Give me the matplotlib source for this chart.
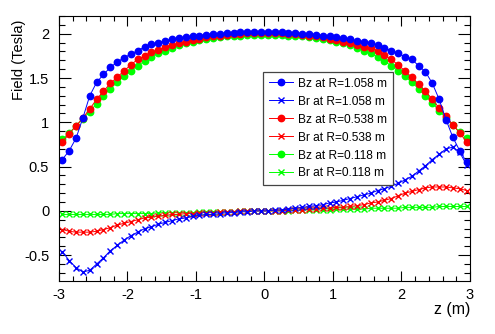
import matplotlib
matplotlib.use('Agg')
import matplotlib.pyplot as plt
from matplotlib.ticker import MultipleLocator

plt.rcParams['font.family'] = ['Liberation Sans', 'DejaVu Sans']

z = [-2.95, -2.85, -2.75, -2.65, -2.55, -2.45, -2.35, -2.25, -2.15, -2.05,
     -1.95, -1.85, -1.75, -1.65, -1.55, -1.45, -1.35, -1.25, -1.15, -1.05,
     -0.95, -0.85, -0.75, -0.65, -0.55, -0.45, -0.35, -0.25, -0.15, -0.05,
     0.05, 0.15, 0.25, 0.35, 0.45, 0.55, 0.65, 0.75, 0.85, 0.95,
     1.05, 1.15, 1.25, 1.35, 1.45, 1.55, 1.65, 1.75, 1.85, 1.95,
     2.05, 2.15, 2.25, 2.35, 2.45, 2.55, 2.65, 2.75, 2.85, 2.95]

# Bz, R = 1.058 m
bz_1058 = [0.58, 0.68, 0.82, 1.05, 1.30, 1.45, 1.54, 1.62, 1.68, 1.73,
           1.77, 1.81, 1.85, 1.88, 1.90, 1.92, 1.94, 1.95, 1.96, 1.97,
           1.98, 1.99, 2.00, 2.00, 2.01, 2.01, 2.02, 2.02, 2.02, 2.02,
           2.02, 2.02, 2.02, 2.01, 2.01, 2.00, 2.00, 1.99, 1.98, 1.97,
           1.96, 1.95, 1.94, 1.92, 1.91, 1.89, 1.87, 1.84, 1.81, 1.78,
           1.74, 1.71, 1.64, 1.57, 1.44, 1.26, 1.03, 0.83, 0.68, 0.55]
# Br, R = 1.058 m
br_1058 = [-0.46, -0.56, -0.64, -0.69, -0.67, -0.60, -0.53, -0.45, -0.39, -0.33,
           -0.28, -0.24, -0.20, -0.18, -0.15, -0.13, -0.11, -0.09, -0.08, -0.06,
           -0.05, -0.04, -0.04, -0.03, -0.02, -0.02, -0.01, -0.01, 0.00, 0.00,
           0.00, 0.01, 0.01, 0.02, 0.03, 0.04, 0.05, 0.06, 0.07, 0.09,
           0.10, 0.12, 0.14, 0.16, 0.18, 0.20, 0.23, 0.25, 0.28, 0.31,
           0.35, 0.39, 0.45, 0.51, 0.58, 0.64, 0.70, 0.72, 0.66, 0.52]
# Bz, R = 0.538 m
bz_0538 = [0.78, 0.87, 0.96, 1.05, 1.15, 1.26, 1.35, 1.44, 1.51, 1.58,
           1.65, 1.71, 1.75, 1.79, 1.82, 1.85, 1.87, 1.89, 1.91, 1.93,
           1.94, 1.96, 1.97, 1.98, 1.99, 2.00, 2.00, 2.01, 2.01, 2.01,
           2.01, 2.01, 2.01, 2.00, 2.00, 1.99, 1.98, 1.97, 1.96, 1.94,
           1.93, 1.91, 1.89, 1.87, 1.85, 1.84, 1.81, 1.76, 1.71, 1.65,
           1.58, 1.51, 1.43, 1.35, 1.26, 1.16, 1.07, 0.97, 0.88, 0.78]
# Br, R = 0.538 m
br_0538 = [-0.21, -0.23, -0.24, -0.24, -0.24, -0.23, -0.21, -0.19, -0.16, -0.14,
           -0.12, -0.10, -0.08, -0.07, -0.06, -0.05, -0.04, -0.04, -0.03, -0.03,
           -0.02, -0.02, -0.02, -0.01, -0.01, -0.01, 0.00, 0.00, 0.00, 0.00,
           0.00, 0.00, 0.00, 0.01, 0.01, 0.01, 0.02, 0.02, 0.03, 0.03,
           0.04, 0.04, 0.05, 0.06, 0.07, 0.09, 0.10, 0.12, 0.14, 0.17,
           0.20, 0.22, 0.24, 0.26, 0.27, 0.27, 0.27, 0.26, 0.25, 0.23]
# Bz, R = 0.118 m
bz_0118 = [0.81, 0.88, 0.96, 1.04, 1.12, 1.21, 1.30, 1.38, 1.45, 1.52,
           1.58, 1.64, 1.69, 1.74, 1.78, 1.81, 1.84, 1.87, 1.89, 1.91,
           1.93, 1.94, 1.95, 1.96, 1.97, 1.98, 1.98, 1.99, 1.99, 1.99,
           1.99, 1.99, 1.99, 1.98, 1.98, 1.97, 1.96, 1.95, 1.94, 1.93,
           1.91, 1.89, 1.87, 1.84, 1.81, 1.78, 1.74, 1.69, 1.64, 1.58,
           1.52, 1.45, 1.38, 1.30, 1.22, 1.13, 1.05, 0.97, 0.89, 0.82]
# Br, R = 0.118 m
br_0118 = [-0.04, -0.04, -0.04, -0.04, -0.04, -0.04, -0.04, -0.04, -0.03, -0.03,
           -0.03, -0.03, -0.03, -0.03, -0.02, -0.02, -0.02, -0.02, -0.02, -0.02,
           -0.01, -0.01, -0.01, -0.01, -0.01, -0.01, 0.00, 0.00, 0.00, 0.00,
           0.00, 0.00, 0.00, 0.00, 0.01, 0.01, 0.01, 0.01, 0.01, 0.01,
           0.02, 0.02, 0.02, 0.02, 0.02, 0.03, 0.03, 0.03, 0.03, 0.03,
           0.04, 0.04, 0.04, 0.04, 0.04, 0.05, 0.05, 0.05, 0.05, 0.05]

labels = ['Bz at R=1.058 m', 'Br at R=1.058 m',
          'Bz at R=0.538 m', 'Br at R=0.538 m',
          'Bz at R=0.118 m', 'Br at R=0.118 m']

blue = '#0000ff'
red = '#ff0000'
green = '#00ff00'

fig = plt.figure(figsize=(4.95, 3.34), dpi=100)
ax = fig.add_axes([0.119, 0.159, 0.8305, 0.793])

handles = {}
# green first, blue last so blue sits on top
for bz, br, col, lz, lr in [(bz_0118, br_0118, green, labels[4], labels[5]),
                            (bz_0538, br_0538, red, labels[2], labels[3]),
                            (bz_1058, br_1058, blue, labels[0], labels[1])]:
    h1, = ax.plot(z, bz, '-o', color=col, lw=0.7, ms=4.6, mec=col, label=lz)
    h2, = ax.plot(z, br, '-x', color=col, lw=0.7, ms=5, mew=1.0, label=lr)
    handles[lz] = h1
    handles[lr] = h2

ax.set_xlim(-3, 3)
ax.set_ylim(-0.79, 2.2)

ax.xaxis.set_minor_locator(MultipleLocator(0.2))
ax.yaxis.set_minor_locator(MultipleLocator(0.1))
ax.set_xticks([-3, -2, -1, 0, 1, 2, 3])
ax.set_xticklabels(['-3', '-2', '-1', '0', '1', '2', '3'])
ax.set_yticks([-0.5, 0, 0.5, 1, 1.5, 2])
ax.set_yticklabels(['-0.5', '0', '0.5', '1', '1.5', '2'])

ax.tick_params(which='both', direction='in', top=True, right=True,
               labelsize=10.5, width=0.8)
ax.tick_params(axis='y', which='major', length=8.5, pad=7)
ax.tick_params(axis='y', which='minor', length=4.3)
ax.tick_params(axis='x', which='major', length=7.5, pad=5)
ax.tick_params(axis='x', which='minor', length=3.8)
for s in ax.spines.values():
    s.set_linewidth(0.8)

ax.set_xlabel('z (m)', fontsize=11.5, loc='right')
ax.set_ylabel('Field (Tesla)', fontsize=10.5, loc='top')
ax.xaxis.set_label_coords(1.0, -0.08)
ax.yaxis.set_label_coords(-0.08, 0.985)

leg = ax.legend([handles[l] for l in labels], labels,
                loc='upper left', bbox_to_anchor=(0.496, 0.79),
                fontsize=8.6, frameon=True, fancybox=False, framealpha=1,
                edgecolor='#444444', borderaxespad=0, handlelength=2.0,
                handletextpad=0.45, labelspacing=0.5, borderpad=0.5)
leg.get_frame().set_linewidth(0.9)

fig.savefig('out.png', dpi=100)
